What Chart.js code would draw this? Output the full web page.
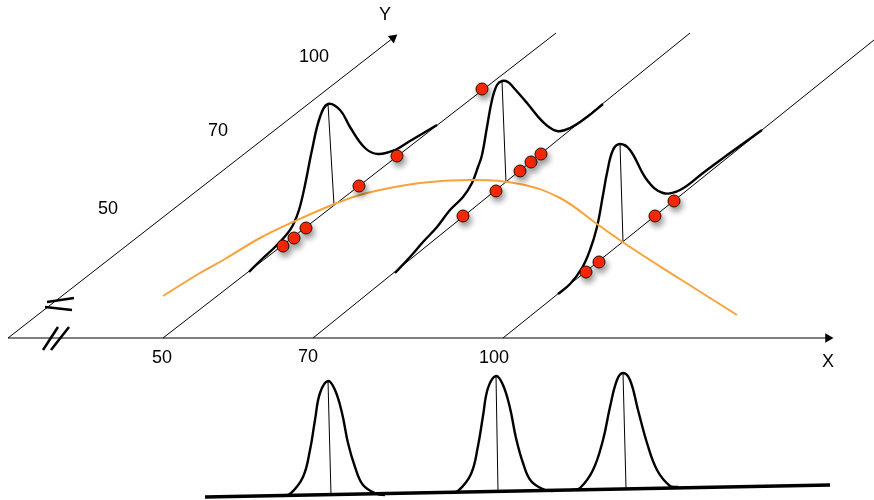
<!DOCTYPE html>
<html lang="en">
<head>
    <meta charset="UTF-8">
    <title>Peaks along X / Y</title>
    <script src="https://cdn.jsdelivr.net/npm/chart.js@4.4.1/dist/chart.umd.min.js"></script>
    <style>
        html, body { margin: 0; padding: 0; background: #fff; }
        canvas { display: block; }
    </style>
</head>
<body>
<canvas id="peakChart" width="874" height="500"></canvas>
<script>
    // all values are in the drawing's own units (0..874 across, 0..500 down)
    const xAxis = [[8, 338], [828, 338]];
    const yAxis = [[8, 338], [393, 38]];
    const xArrowTip = [[828, 338]];
    const yArrowTip = [[393, 38]];

    const guide50 = [[163, 338], [556, 33]];
    const guide70 = [[313, 338], [690, 33]];
    const guide100 = [[503, 338], [874, 40]];

    const breakMarks = [
        [[47, 302], [74, 298]],
        [[45, 307], [72, 310]],
        [[43, 350], [58, 327]],
        [[51, 350], [69, 327]]
    ];

    const peak1 = [[249, 272], [262, 259], [275, 247], [287, 234], [293, 225], [299, 210], [305, 185],
        [312, 150], [320, 117], [328, 104], [340, 110], [350, 127], [365, 148], [378, 154],
        [395, 150], [410, 141], [437, 125]];
    const peak2 = [[395, 273], [410, 257], [423, 242], [437, 227], [450, 210], [463, 197], [472, 183],
        [478, 167], [482, 155], [487, 127], [492, 100], [497, 85], [502, 81], [508, 82], [513, 87],
        [527, 103], [543, 122], [557, 131], [570, 128], [587, 117], [603, 104]];
    const peak3 = [[558, 294], [570, 284], [582, 268], [590, 250], [597, 227], [603, 195], [607, 173],
        [613, 150], [620, 144], [630, 150], [647, 180], [663, 193], [680, 190], [703, 173],
        [730, 153], [762, 130]];

    const drops = [
        [[328, 104], [334, 205]],
        [[502, 81], [506, 183]],
        [[620, 144], [623, 242]]
    ];

    const trend = [[163, 296], [200, 273], [225, 259], [260, 238], [293, 222], [337, 203], [367, 193],
        [420, 183], [473, 180], [520, 184], [560, 198], [597, 224], [630, 247], [680, 279], [737, 315]];

    const samples = [[283, 246], [294, 238], [306, 228], [359, 186], [397, 156], [482, 89],
        [463, 216], [496, 191], [520, 171], [531, 162], [541, 154], [586, 272], [599, 262],
        [655, 216], [674, 201]];

    const baseLine = [[205, 497], [830, 485]];
    const lowPeak1 = [[282, 496], [290, 494], [303, 477], [310, 450], [315, 420], [320, 393], [328, 381],
        [335, 390], [342, 413], [348, 443], [355, 467], [363, 485], [377, 494], [385, 495]];
    const lowPeak2 = [[450, 493], [458, 491], [471, 474], [478, 446], [483, 416], [488, 388], [496, 376],
        [503, 385], [510, 408], [516, 438], [523, 463], [531, 481], [545, 490], [553, 491]];
    const lowPeak3 = [[572, 490], [580, 488], [593, 470], [603, 440], [610, 407], [617, 380], [623, 373],
        [630, 380], [638, 410], [647, 443], [657, 470], [670, 486], [678, 487]];
    const lowDrops = [
        [[328, 381], [331, 495]],
        [[496, 376], [498, 491]],
        [[623, 373], [626, 488]]
    ];

    const labelTexts = ['Y', '100', '70', '50', '50', '70', '100', 'X'];
    const labelX = [385, 314, 218, 108, 162, 308, 494, 828];
    const labelY = [15, 57, 131, 209, 358, 357, 358, 362];

    function pts(list) {
        return list.map(p => ({ x: p[0], y: p[1] }));
    }

    function line(list, width, extra) {
        return Object.assign({
            data: pts(list),
            showLine: true,
            borderColor: '#000',
            borderWidth: width,
            pointRadius: 0,
            tension: 0,
            order: 3
        }, extra || {});
    }

    const datasets = [];
    datasets.push(line(xAxis, 1));
    datasets.push(line(yAxis, 1));
    datasets.push(line(guide50, 1));
    datasets.push(line(guide70, 1));
    datasets.push(line(guide100, 1));
    breakMarks.forEach(m => datasets.push(line(m, 2.5)));
    drops.forEach(d => datasets.push(line(d, 1)));
    lowDrops.forEach(d => datasets.push(line(d, 1)));
    [peak1, peak2, peak3].forEach(p => datasets.push(line(p, 2.4, { tension: 0.4, order: 2 })));
    [lowPeak1, lowPeak2, lowPeak3].forEach(p => datasets.push(line(p, 2.4, { tension: 0.4, order: 2 })));
    datasets.push(line(baseLine, 3.5, { order: 2 }));
    datasets.push(line(trend, 2, { borderColor: '#f7a23a', tension: 0.4, order: 1 }));

    datasets.push({
        data: pts(xArrowTip),
        pointStyle: 'triangle',
        pointRotation: 90,
        pointRadius: 5.5,
        backgroundColor: '#000',
        borderColor: '#000',
        borderWidth: 0,
        order: 1
    });
    datasets.push({
        data: pts(yArrowTip),
        pointStyle: 'triangle',
        pointRotation: 52,
        pointRadius: 5.5,
        backgroundColor: '#000',
        borderColor: '#000',
        borderWidth: 0,
        order: 1
    });
    datasets.push({
        data: pts(samples),
        pointRadius: 6,
        backgroundColor: '#ff2a00',
        borderColor: '#2a0a00',
        borderWidth: 1,
        shadow: true,
        order: 0
    });

    const shadowPlugin = {
        id: 'shadow',
        beforeDatasetDraw(chart, args) {
            const ds = chart.data.datasets[args.index];
            if (!ds.shadow) return;
            const ctx = chart.ctx;
            ctx.save();
            ctx.shadowColor = 'rgba(0,0,0,0.45)';
            ctx.shadowBlur = 6;
            ctx.shadowOffsetX = 2;
            ctx.shadowOffsetY = 4;
        },
        afterDatasetDraw(chart, args) {
            const ds = chart.data.datasets[args.index];
            if (!ds.shadow) return;
            chart.ctx.restore();
        }
    };

    const labelPlugin = {
        id: 'labels',
        afterDatasetsDraw(chart) {
            const ctx = chart.ctx;
            const xs = chart.scales.x;
            const ys = chart.scales.y;
            ctx.save();
            ctx.fillStyle = '#000';
            ctx.font = '18px "Liberation Sans", Arial, sans-serif';
            ctx.textAlign = 'center';
            ctx.textBaseline = 'middle';
            labelTexts.forEach((t, i) => {
                ctx.fillText(t, xs.getPixelForValue(labelX[i]), ys.getPixelForValue(labelY[i]));
            });
            ctx.restore();
        }
    };

    new Chart(document.getElementById('peakChart'), {
        type: 'scatter',
        data: { datasets },
        options: {
            responsive: false,
            animation: false,
            layout: { padding: 0, autoPadding: false },
            scales: {
                x: { type: 'linear', min: 0, max: 874, display: false },
                y: { type: 'linear', min: 0, max: 500, reverse: true, display: false }
            },
            plugins: {
                legend: { display: false },
                tooltip: { enabled: false }
            }
        },
        plugins: [shadowPlugin, labelPlugin]
    });
</script>
</body>
</html>
